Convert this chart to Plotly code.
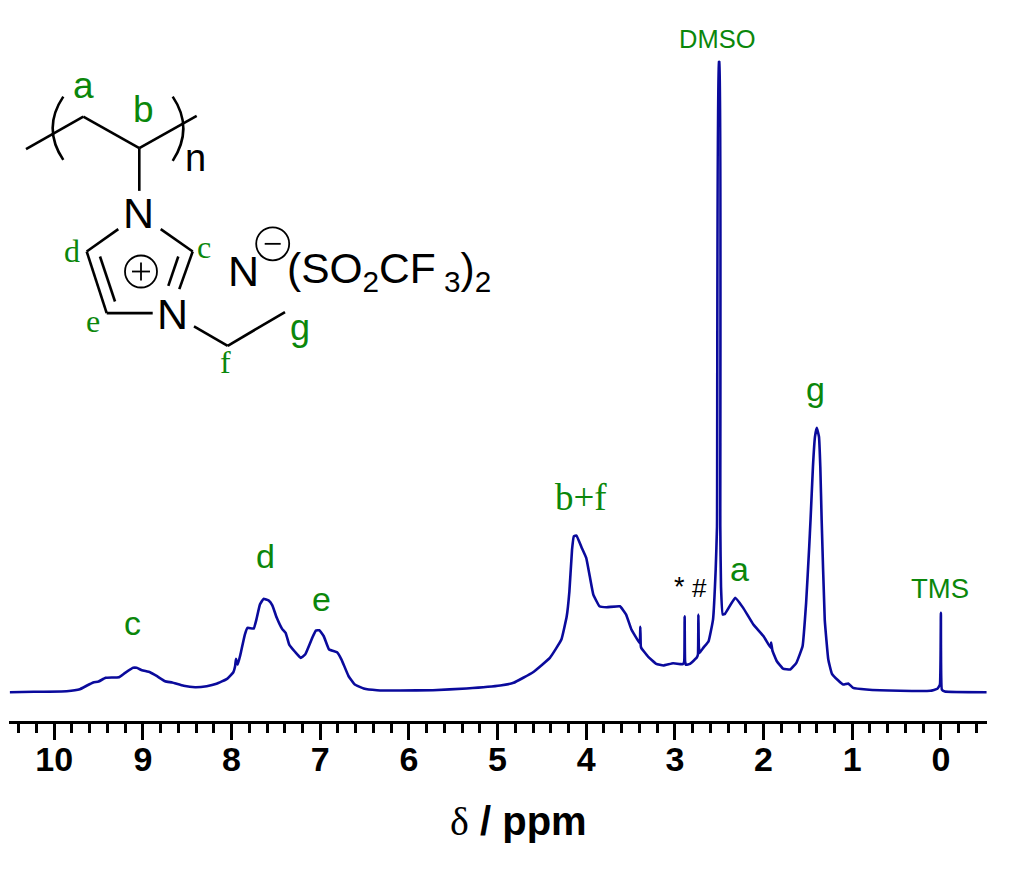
import plotly.graph_objects as go

# 1H NMR spectrum
ppm = [10.50, 10.23, 9.86, 9.71, 9.63, 9.56, 9.50, 9.42, 9.27, 9.20, 9.11, 9.07, 9.01, 8.92, 8.84, 8.75, 8.67, 8.54, 8.41, 8.28, 8.17, 8.05, 7.98, 7.96, 7.95, 7.93, 7.90, 7.85, 7.82, 7.75, 7.72, 7.68, 7.64, 7.58, 7.54, 7.49, 7.43, 7.39, 7.35, 7.28, 7.22, 7.17, 7.09, 7.05, 7.01, 6.96, 6.90, 6.81, 6.76, 6.68, 6.61, 6.51, 6.36, 6.10, 5.73, 5.35, 4.97, 4.82, 4.60, 4.41, 4.28, 4.22, 4.19, 4.16, 4.14, 4.11, 4.05, 4.00, 3.96, 3.92, 3.85, 3.77, 3.62, 3.55, 3.49, 3.40, 3.395, 3.39, 3.385, 3.38, 3.30, 3.21, 3.13, 3.02, 2.91, 2.895, 2.89, 2.885, 2.875, 2.83, 2.755, 2.74, 2.735, 2.73, 2.72, 2.68, 2.62, 2.57, 2.54, 2.525, 2.505, 2.497, 2.488, 2.48, 2.46, 2.435, 2.32, 2.23, 2.115, 2.00, 1.92, 1.915, 1.90, 1.85, 1.78, 1.70, 1.63, 1.56, 1.52, 1.485, 1.47, 1.443, 1.42, 1.40, 1.375, 1.36, 1.345, 1.31, 1.27, 1.23, 1.16, 1.10, 1.045, 0.99, 0.84, 0.46, 0.12, 0.04, 0.011, 0.0, -0.011, -0.045, -0.515]
intensity = [-0.7, -0.3, 0.3, 2.3, 6, 9, 10, 13.7, 14.3, 18.7, 23.7, 23.7, 21.3, 19.3, 15.3, 10.3, 9, 5.7, 4.3, 5.3, 7.7, 12.7, 19.3, 25.3, 32.7, 27, 37, 57, 63.7, 63, 72, 87, 92.7, 91, 86.3, 73.7, 62.7, 58.7, 47, 39.3, 33.7, 37, 53.7, 61, 61.3, 55.3, 42, 39.3, 32, 15.3, 7, 3, 1.3, 1, 1.3, 3, 6, 8.7, 19.3, 33.7, 52, 75.3, 100, 142, 155.3, 156, 143.7, 133.7, 115.3, 97, 85.3, 84.3, 85.3, 77, 62, 48.7, 49, 64.7, 46, 43.7, 34.7, 27.7, 26, 28.3, 27.3, 30, 75.3, 30, 26.7, 27.7, 33.7, 37, 77, 45, 38.7, 43.7, 50.3, 72, 122, 165, 630, 630, 165, 105, 77, 77.7, 93.7, 83.7, 67, 55.3, 43.7, 49, 41, 30.3, 23, 22, 28.7, 45.3, 88.7, 145, 172, 225, 255, 264, 255, 225, 172, 72, 32, 18, 11.3, 7, 8, 3.7, 2, 0.7, 0.7, 2.7, 7, 78.7, 2, 0, -0.7]

major_step = 1
minor_step = 0.2
x_range = [10.51, -0.52]
y_range = [-29.5, 692]
axis_title = "<span style='font-family:Liberation Serif'>δ</span><b> / ppm</b>"

W, H = 1024, 879
L, R, AXIS_Y = 9, 987, 721.5
BLUE = "#0a0a9c"
GREEN = "#0b870b"
BLACK = "#000000"
SANS = "Liberation Sans, Arial, sans-serif"
SERIF = "Liberation Serif, Times New Roman, serif"

def px(x):
    return (x - L) / (R - L)

def py(y):
    return (AXIS_Y - y) / AXIS_Y

fig = go.Figure(go.Scatter(x=ppm, y=intensity, mode="lines",
                           line=dict(color=BLUE, width=2.6, shape="spline", smoothing=0.3), hoverinfo="skip"))

# chemical structure drawn on top of the chart
bonds = [
    (26, 149.3, 83.3, 116.7), (83.3, 116.7, 139.3, 148.3), (139.3, 148.3, 196.7, 116),
    (139.3, 148.3, 139.3, 191),
    (118.3, 229.3, 86.7, 251.7), (86.7, 251.7, 106.7, 313.3), (106.7, 313.3, 152.7, 313.3),
    (100, 256.7, 115, 301.7),
    (160.7, 229.3, 192.7, 251.7), (192.7, 251.7, 179.3, 289.3), (178.3, 256.7, 168.3, 286),
    (194, 326.7, 227.7, 346), (227.7, 346, 285, 312.3),
]
thin = [(132, 271.7, 150, 271.7), (141, 262.7, 141, 280.7), (264.7, 244, 280.7, 244)]
shapes = []
for group, width in ((bonds, 2.6), (thin, 1.8)):
    for x0, y0, x1, y1 in group:
        shapes.append(dict(type="line", xref="paper", yref="paper", x0=px(x0), y0=py(y0), x1=px(x1), y1=py(y1),
                           line=dict(color=BLACK, width=width)))
for cx, cy, r in [(141, 271.7, 16), (272.7, 244, 16.5)]:
    shapes.append(dict(type="circle", xref="paper", yref="paper",
                       x0=px(cx - r), x1=px(cx + r), y0=py(cy + r), y1=py(cy - r),
                       line=dict(color=BLACK, width=1.8)))
for (xa, ya, xc, yc, xb, yb) in [(63.3, 96.7, 42, 128.3, 63.3, 160), (172.7, 96.7, 194, 128.3, 172.7, 161)]:
    shapes.append(dict(type="path", xref="paper", yref="paper",
                       path=f"M {px(xa)} {py(ya)} Q {px(xc)} {py(yc)} {px(xb)} {py(yb)}",
                       line=dict(color=BLACK, width=2.6)))

labels = [
    ("a", 83.3, 86, 37, GREEN, SANS), ("b", 143.3, 110, 37, GREEN, SANS),
    ("d", 72.3, 250.7, 32, GREEN, SERIF), ("c", 204, 247, 32, GREEN, SERIF),
    ("e", 93.3, 321.7, 32, GREEN, SERIF), ("f", 225.7, 362, 32, GREEN, SERIF),
    ("g", 300, 328, 36, GREEN, SANS),
    ("c", 132, 623, 34, GREEN, SANS), ("d", 265, 556, 34, GREEN, SANS), ("e", 321, 599, 34, GREEN, SANS),
    ("a", 739, 569, 34, GREEN, SANS), ("g", 815, 389, 34, GREEN, SANS),
    ("b+f", 581, 498, 37, GREEN, SERIF), ("TMS", 940, 589, 27.5, GREEN, SANS), ("DMSO", 717, 39, 25.5, GREEN, SANS),
    ("*", 679, 587, 27, BLACK, SANS), ("#", 699, 588, 26, BLACK, SANS),
    ("n", 195, 158, 38, BLACK, SANS), ("N", 138.3, 213.3, 43, BLACK, SANS), ("N", 172.7, 314.3, 43, BLACK, SANS),
    ("N", 243.3, 271, 43, BLACK, SANS),
]
annotations = [dict(text=t, x=px(x), y=py(y), xref="paper", yref="paper", showarrow=False,
                    xanchor="center", yanchor="middle", font=dict(size=s, color=c, family=f))
               for t, x, y, s, c, f in labels]
annotations.append(dict(text="(SO<sub>2</sub>CF<sub> 3</sub>)<sub>2</sub>", x=px(285), y=py(272), xref="paper", yref="paper",
                        showarrow=False, xanchor="left", yanchor="middle",
                        font=dict(size=42.5, color=BLACK, family=SANS)))
annotations.append(dict(text=axis_title, x=px(518.5), y=py(822), xref="paper", yref="paper", showarrow=False,
                        xanchor="center", yanchor="middle", font=dict(size=40, color=BLACK, family=SANS)))

fig.update_layout(
    width=W, height=H, autosize=False, showlegend=False,
    paper_bgcolor="white", plot_bgcolor="white",
    margin=dict(l=L, r=W - R, t=0, b=H - AXIS_Y, pad=0),
    shapes=shapes, annotations=annotations,
    xaxis=dict(range=x_range, autorange=False, dtick=major_step, tick0=0, showgrid=False, zeroline=False,
               showline=True, linecolor=BLACK, linewidth=3, ticks="outside", ticklen=16, tickwidth=2.5, tickcolor=BLACK,
               minor=dict(dtick=minor_step, tick0=0, ticks="outside", ticklen=9, tickwidth=2.5, tickcolor=BLACK, showgrid=False),
               tickfont=dict(size=34, color=BLACK, family=SANS, weight=700), ticklabelstandoff=-10),
    yaxis=dict(range=y_range, autorange=False, visible=False),
)
fig.write_html("out.html", config={"displayModeBar": False},
               post_script="document.body.style.margin='0';")
